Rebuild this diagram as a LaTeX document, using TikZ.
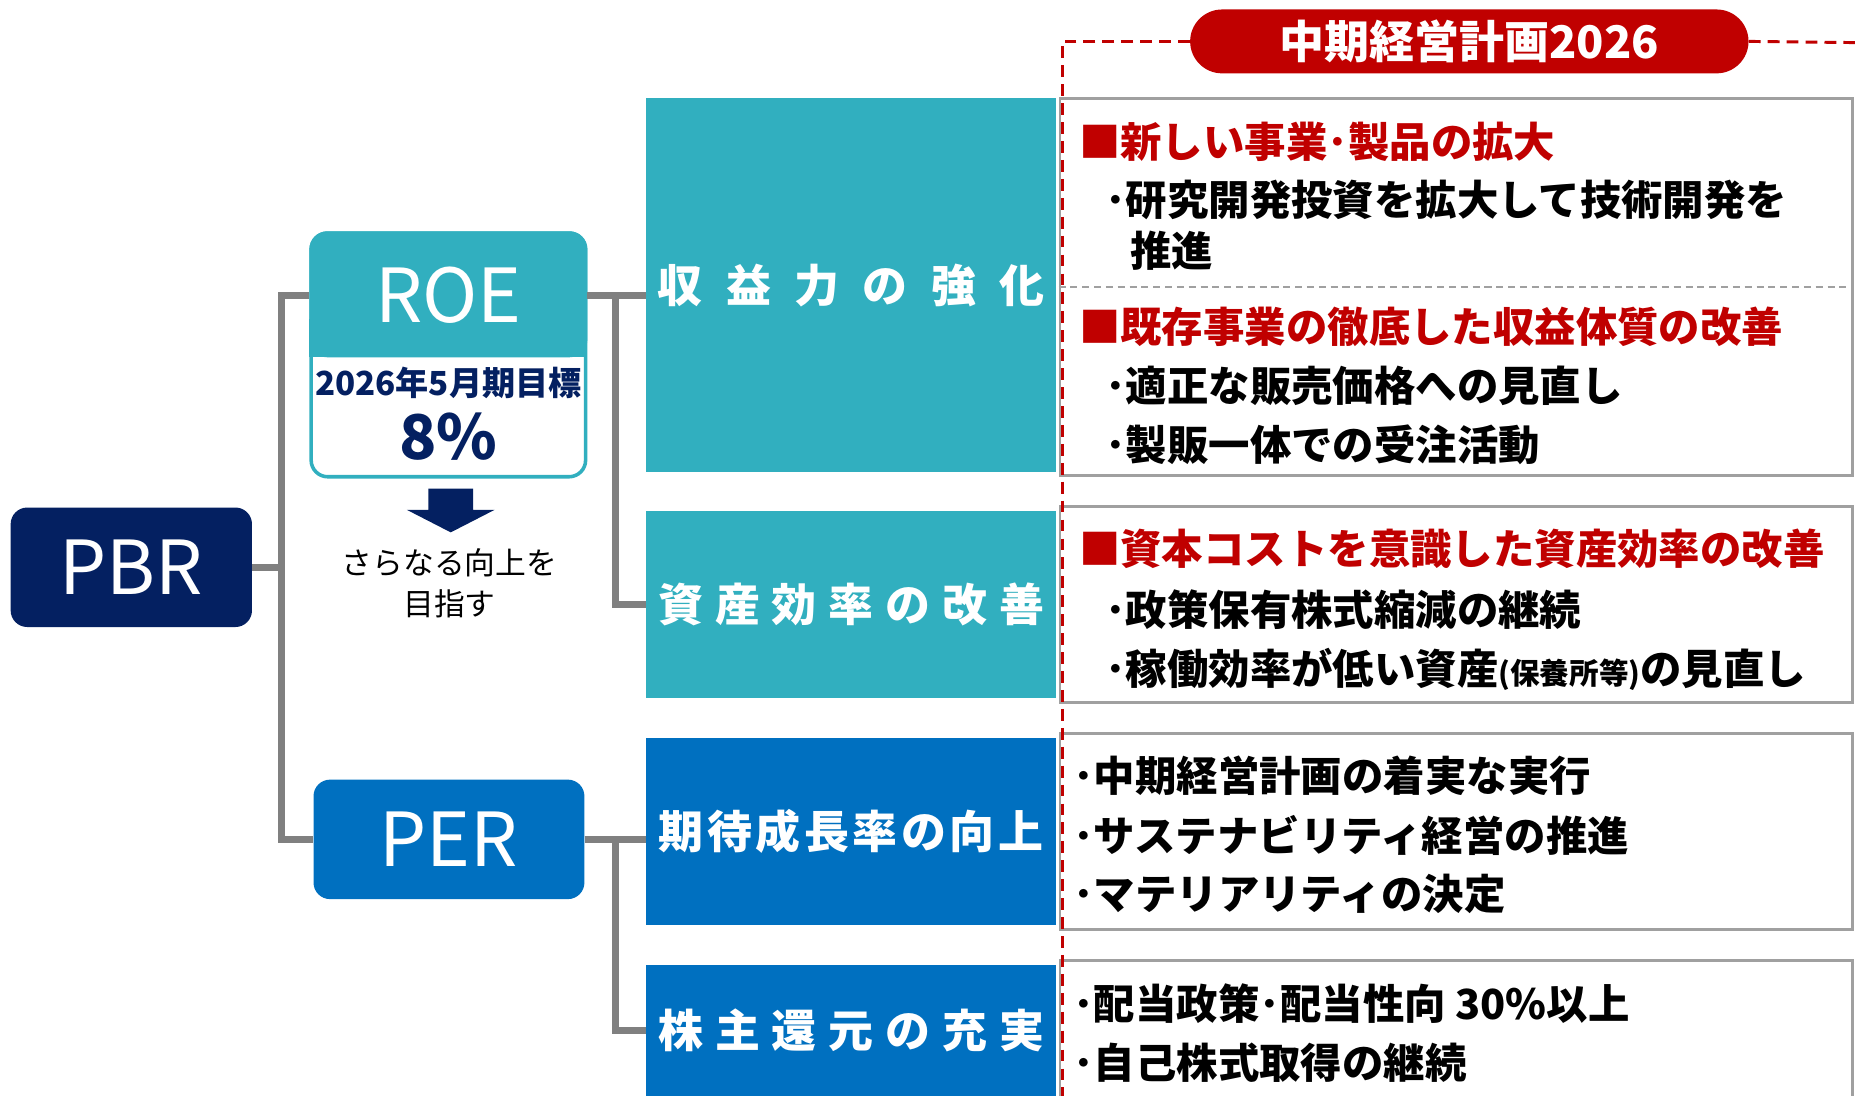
\documentclass[tikz,border=0pt]{standalone}
\usepackage{fontspec}
\setmainfont{Noto Sans CJK JP}
\newcommand\myfs[2]{\fontsize{#1pt}{#2pt}\selectfont}
\definecolor{navy}{HTML}{042061}
\definecolor{tealc}{HTML}{31AFBF}
\definecolor{bluec}{HTML}{0070C0}
\definecolor{redc}{HTML}{C00000}
\definecolor{linegray}{HTML}{808080}
\definecolor{boxgray}{HTML}{A0A0A0}
\begin{document}
\begin{tikzpicture}[x=1pt,y=-1pt,
  gline/.style={draw=linegray,line width=6pt},
  metric/.style={rounded corners=14pt,text=white,font=\myfs{63}{63},inner sep=0pt},
  catbox/.style={minimum width=347pt,inner sep=0pt,text=white,font=\bfseries\myfs{38}{38}},
  infobox/.style={draw=boxgray,line width=2.5pt,fill=white,minimum width=670pt,inner sep=0pt},
  item/.style={anchor=west,inner sep=0pt,font=\bfseries\myfs{35}{35}},
  headitem/.style={item,text=redc},
  reddash/.style={draw=redc,line width=2.5pt,dash pattern=on 10pt off 6pt},
  sepdash/.style={draw=boxgray,line width=2pt,dash pattern=on 6pt off 4pt},
]
\useasboundingbox (0,0) rectangle (1568,926);

% ---- left part
\node[metric,fill=navy,minimum width=204pt,minimum height=101pt] (pbr) at (111,479.5) {PBR};

\node[draw=tealc,line width=3pt,fill=white,rounded corners=14pt,minimum width=232pt,minimum height=206pt] (roe) at (379,300) {};
\fill[tealc,rounded corners=15pt] (261.5,195.5) rectangle (496.5,302);
\fill[tealc] (261.5,270) rectangle (496.5,302);
\node[text=white,font=\myfs{63}{63},inner sep=0pt] (roetop) at (379,249.5) {ROE};
\node[text=navy,font=\bfseries\myfs{28}{28},inner sep=0pt] (target) at (379,324) {2026年5月期目標};
\node[text=navy,font=\bfseries\myfs{52}{52},inner sep=0pt] (pct) at (379,369) {8\%};

\fill[navy] (362,413) -- (400,413) -- (400,431) -- (418,431) -- (381,450) -- (344,431) -- (362,431) -- cycle;
\node[align=center,font=\myfs{26}{34},inner sep=0pt] (goal) at (380,493) {さらなる向上を\\目指す};

\node[metric,fill=bluec,minimum width=229pt,minimum height=101pt] (per) at (379.5,709.5) {PER};

% ---- category boxes
\node[catbox,fill=tealc,minimum height=316pt] (k1) at (719.5,241)
  {収\hspace{19.8pt}益\hspace{19.8pt}力\hspace{19.8pt}の\hspace{19.8pt}強\hspace{19.8pt}化};
\node[catbox,fill=tealc,minimum height=158pt] (k2) at (719.5,511)
  {資\hspace{10pt}産\hspace{10pt}効\hspace{10pt}率\hspace{10pt}の\hspace{10pt}改\hspace{10pt}善};
\node[catbox,fill=bluec,minimum height=158pt] (k3) at (719.5,703)
  {期\hspace{3pt}待\hspace{3pt}成\hspace{3pt}長\hspace{3pt}率\hspace{3pt}の\hspace{3pt}向\hspace{3pt}上};
\node[catbox,fill=bluec,minimum height=110pt] (k4) at (719.5,871)
  {株\hspace{10pt}主\hspace{10pt}還\hspace{10pt}元\hspace{10pt}の\hspace{10pt}充\hspace{10pt}実};

% ---- connectors
\coordinate (j1) at (238,480);
\coordinate (j2) at (520,480);
\draw[gline] (pbr.east) -- (pbr.east -| j1);
\draw[gline] (roetop -| roe.west) -| (per.west -| j1) -- (per.west);
\draw[gline] (roetop -| roe.east) -- (roetop -| k1.west);
\draw[gline] (roetop -| roe.east) -| (k2.west -| j2) -- (k2.west);
\draw[gline] (per.east) -- (per.east -| k3.west);
\draw[gline] (per.east) -| (k4.west -| j2) -- (k4.west);

% ---- info boxes
\node[infobox,minimum height=319pt] (b1) at (1231,242.5) {};
\node[infobox,minimum height=166pt] (b2) at (1231,511) {};
\node[infobox,minimum height=166pt] (b3) at (1231,703) {};
\node[infobox,minimum height=118pt] (b4) at (1231,871) {};
\draw[sepdash] (b1.west) -- (b1.east);

% ---- red frame and pill
\coordinate (rbottom) at (898,926);
\coordinate (rright) at (1568,36);
\node[fill=redc,rounded corners=27pt,minimum width=472pt,minimum height=54pt,inner sep=0pt,text=white,font=\bfseries\myfs{38}{38}] (pill) at (1242,35) {中期経営計画2026};
\draw[reddash] (pill.west) -- (pill.west -| rbottom) -- (rbottom);
\draw[reddash] (pill.east) -- (rright);

% ---- texts
\node[headitem] (h1) at (912,120) {■新しい事業･製品の拡大};
\node[item] (i1) at (934,169) {･研究開発投資を拡大して技術開発を};
\node[item] (i1b) at (955,212) {推進};
\node[headitem] (h2) at (912,276) {■既存事業の徹底した収益体質の改善};
\node[item] (i2) at (934,326) {･適正な販売価格への見直し};
\node[item] (i3) at (934,376) {･製販一体での受注活動};
\node[headitem] (h3) at (912,464) {■資本コストを意識した資産効率の改善};
\node[item] (i4) at (934,515) {･政策保有株式縮減の継続};
\node[item] (i5) at (934,566) {･稼働効率が低い資産{\myfs{25}{25}(保養所等)}の見直し};
\node[item] (i6) at (907,656) {･中期経営計画の着実な実行};
\node[item] (i7) at (907,706) {･サステナビリティ経営の推進};
\node[item] (i8) at (907,756) {･マテリアリティの決定};
\node[item] (i9) at (907,848) {･配当政策･配当性向 30\%以上};
\node[item] (i10) at (907,898) {･自己株式取得の継続};
\end{tikzpicture}
\end{document}
